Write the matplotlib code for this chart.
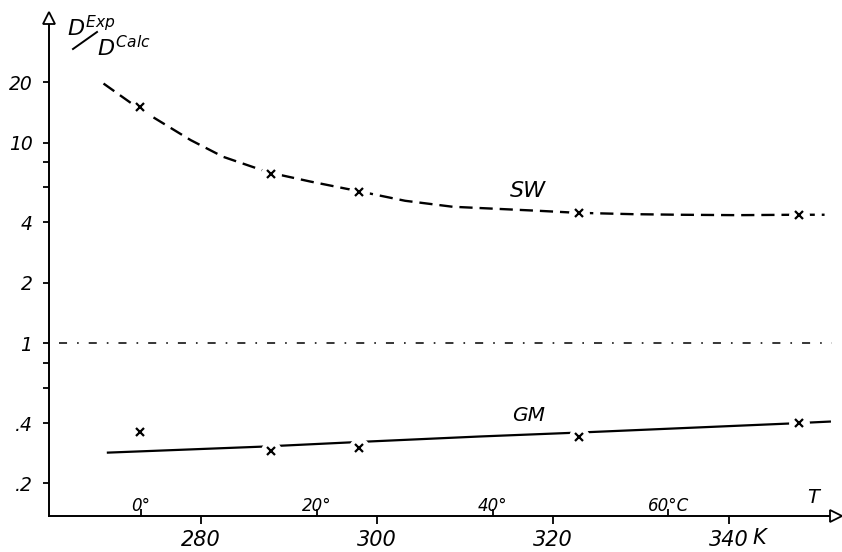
import matplotlib
matplotlib.use("Agg")
import matplotlib.pyplot as plt
from matplotlib.lines import Line2D
from matplotlib.ticker import NullFormatter

plt.rcParams["font.family"] = "DejaVu Sans"
plt.rcParams["font.style"] = "italic"
plt.rcParams["mathtext.fontset"] = "custom"
plt.rcParams["mathtext.it"] = "DejaVu Sans:italic"
plt.rcParams["mathtext.rm"] = "DejaVu Sans:italic"
plt.rcParams["lines.scale_dashes"] = False

# measured ratios D_exp / D_calc at these temperatures (K)
t_meas = [273, 288, 298, 323, 348]
sw_meas = [15.0, 7.0, 5.7, 4.45, 4.35]
gm_meas = [0.36, 0.29, 0.30, 0.34, 0.40]

# smoothed curves through the measurements
t_sw = [268.9, 272.8, 278.8, 282.5, 287.7, 292.4, 297.7, 303.2, 308.6,
        313.5, 318.5, 322.7, 329.0, 334.4, 341.0, 347.7, 350.9]
sw_curve = [19.7, 14.9, 10.3, 8.5, 7.1, 6.4, 5.75, 5.13, 4.79,
            4.68, 4.57, 4.47, 4.40, 4.37, 4.35, 4.37, 4.37]
t_gm = [269.4, 286.7, 299.2, 311.7, 323.1, 346.9, 351.5]
gm_curve = [0.285, 0.305, 0.324, 0.343, 0.359, 0.398, 0.407]
t_unity = [263.8, 351.8]
unity = [1.0, 1.0]

yticks = [0.2, 0.4, 1, 2, 4, 10, 20]
ylabels = [".2", ".4", "1", "2", "4", "10", "20"]
yminor = [0.6, 0.8, 6, 8]
kticks = [280, 300, 320, 340]
klabels = ["280", "300", "320", "340"]
cticks = [0, 20, 40, 60]
clabels = ["0°", "20°", "40°", "60°C"]


def k2c(t):
    return t - 273.15


def c2k(t):
    return t + 273.15


fig = plt.figure(figsize=(8.42, 5.52), dpi=100)
ax = fig.add_axes([49 / 842, 36 / 552, 787 / 842, 498 / 552])
ax.set_yscale("log")
ax.set_xlim(262.7, 352.2)
ax.set_ylim(0.1377, 41.8)

ax.plot(t_sw, sw_curve, color="k", lw=1.7, dashes=(9.5, 5.0), dash_capstyle="butt")
ax.plot(t_gm, gm_curve, color="k", lw=1.6)
ax.plot(t_unity, unity, color="k", lw=1.1, dashes=(5.8, 7.2, 1.2, 7.2))

# white patches break the lines around each cross
for vals in (sw_meas, gm_meas):
    ax.plot(t_meas, vals, "o", ms=15, mfc="white", mec="none", zorder=3)
    ax.plot(t_meas, vals, "x", color="k", ms=6, mew=1.6, zorder=4)

for side in ("top", "right"):
    ax.spines[side].set_visible(False)
for side in ("left", "bottom"):
    ax.spines[side].set_linewidth(1.4)
ax.plot(0, 1, marker="^", ms=8, mfc="white", mec="k", mew=1.3,
        transform=ax.transAxes, clip_on=False, zorder=5)
ax.plot(1, 0, marker=">", ms=8, mfc="white", mec="k", mew=1.3,
        transform=ax.transAxes, clip_on=False, zorder=5)

ax.set_yticks(yticks, labels=ylabels)
ax.set_yticks(yminor, minor=True)
ax.yaxis.set_minor_formatter(NullFormatter())
ax.tick_params(axis="y", which="both", direction="out", length=4, width=1.3,
               pad=8, labelsize=13.5)
ax.set_xticks(kticks, labels=klabels)
ax.tick_params(axis="x", direction="out", length=6, width=1.3, pad=4,
               labelsize=15)

sec = ax.secondary_xaxis("bottom", functions=(k2c, c2k))
sec.set_xticks(cticks, labels=clabels)
sec.spines["bottom"].set_visible(False)
sec.tick_params(direction="in", length=5, width=1.3, pad=-14, labelsize=12)

ax.text(317.2, 5.75, "SW", fontsize=16, ha="center", va="center")
ax.text(317.2, 0.436, "GM", fontsize=14.5, ha="center", va="center")
ax.text(0.971, 0.038, "T", fontsize=14, ha="center", va="center",
        transform=ax.transAxes)
ax.text(343.5, -0.025, "K", fontsize=15, ha="center", va="top",
        transform=ax.get_xaxis_transform())

fig.text(67 / 842, 1 - 36 / 552, "$D^{Exp}$", fontsize=16, ha="left", va="baseline")
fig.text(97 / 842, 1 - 56 / 552, "$D^{Calc}$", fontsize=16, ha="left", va="baseline")
fig.add_artist(Line2D([73 / 842, 97 / 842], [1 - 49 / 552, 1 - 32 / 552],
                      color="k", lw=1.4, transform=fig.transFigure))

fig.savefig("out.png", dpi=100)
